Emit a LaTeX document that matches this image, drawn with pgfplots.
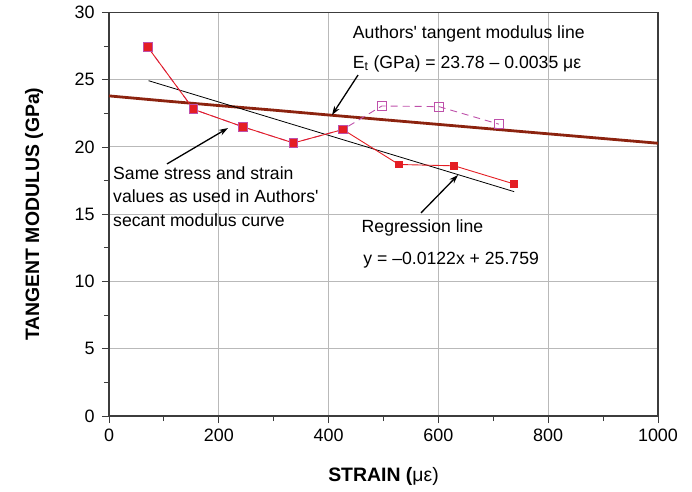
\documentclass[border=0pt]{standalone}
\usepackage{fontspec}
\setmainfont{Liberation Sans}
\usepackage{pgfplots}
\pgfplotsset{compat=1.18}
\usetikzlibrary{arrows.meta}
\definecolor{redm}{RGB}{228,30,36}
\definecolor{magm}{RGB}{190,80,170}
\definecolor{brownl}{RGB}{140,35,15}
\definecolor{gridc}{RGB}{185,185,185}
\definecolor{axc}{RGB}{60,60,60}
\begin{document}
\begin{tikzpicture}
\begin{axis}[
  scale only axis, width=549bp, height=403.5bp,
  xmin=0, xmax=1000, ymin=0, ymax=30,
  xtick={0,200,...,1000}, ytick={0,5,...,30},
  minor xtick={100,300,...,900}, minor ytick={2.5,7.5,...,27.5},
  tick align=outside, tick pos=left,
  major tick length=7bp, minor tick length=5bp,
  every tick/.style={axc, line width=0.9bp},
  grid=major, major grid style={gridc, line width=1bp},
  axis line style={axc, line width=1.4bp},
  /pgf/number format/assume math mode=true,
  /pgf/number format/1000 sep={},
  ticklabel style={font=\fontsize{18}{20}\selectfont},
  yticklabel style={xshift=-4bp},
  xticklabel style={yshift=-2bp},
  xlabel={\fontsize{19.5}{22}\selectfont\bfseries STRAIN (\mdseries με)},
  ylabel={\fontsize{19.5}{22}\selectfont\bfseries TANGENT MODULUS (GPa)},
  xlabel style={at={(axis description cs:0.5,0)}, anchor=center, yshift=-60bp},
  ylabel style={at={(axis description cs:0,0.5)}, anchor=center, yshift=75bp},
  clip=false,
]
% Authors' tangent modulus line
\addplot[brownl, line width=2.8bp] coordinates {
  (0,23.80) (100,23.43) (200,23.08) (300,22.74) (400,22.38) (500,22.03)
  (600,21.68) (700,21.33) (800,20.98) (900,20.63) (1000,20.28)};
% Regression line
\addplot[black, line width=0.8bp] coordinates {(72,24.93) (738,16.68)};
% open squares (magenta, dashed)
\addplot[magm, line width=0.9bp, dash pattern=on 7bp off 5bp, mark=square, mark size=4.4bp,
  mark options={solid, fill=white, line width=1bp}] coordinates {
  (71,27.41) (154,22.8) (244,21.5) (336,20.3) (426,21.3)
  (497,23.05) (601,23.0) (710,21.7)};
% red filled squares
\addplot[redm, line width=0.9bp, mark=square*, mark size=3.4bp,
  mark options={solid, fill=redm, draw=redm}] coordinates {
  (71,27.41) (154,22.8) (244,21.5) (336,20.3) (426,21.3)
  (528,18.7) (629,18.6) (738,17.25)};
% annotations
\def\af{\fontsize{17.7}{20}\selectfont}
\node[anchor=base west, inner sep=0] at (axis cs:444,28.03) {\af Authors\textquotesingle{} tangent modulus line};
\node[anchor=base west, inner sep=0] at (axis cs:444,25.85) {\af E\textsubscript{t} (GPa) = 23.78 -- 0.0035 με};
\node[anchor=base west, inner sep=0] at (axis cs:7.3,17.6) {\af Same stress and strain};
\node[anchor=base west, inner sep=0] at (axis cs:7.3,15.84) {\af values as used in Authors\textquotesingle};
\node[anchor=base west, inner sep=0] at (axis cs:7.3,14.1) {\af secant modulus curve};
\node[anchor=base west, inner sep=0] at (axis cs:460,13.66) {\af Regression line};
\node[anchor=base west, inner sep=0] at (axis cs:463,11.23) {\af y = --0.0122x + 25.759};
\draw[-{Stealth[length=9bp,width=6bp]}, line width=1.3bp] (axis cs:453.6,25.35) -- (axis cs:406.2,22.38);
\draw[-{Stealth[length=9bp,width=6bp]}, line width=1.3bp] (axis cs:105.6,18.74) -- (axis cs:216.8,21.41);
\draw[-{Stealth[length=9bp,width=6bp]}, line width=1.3bp] (axis cs:568.3,15.1) -- (axis cs:635.7,17.92);
\end{axis}
\pgfresetboundingbox
\useasboundingbox (-109bp,-76bp) rectangle (583bp,416bp);
\end{tikzpicture}
\end{document}
